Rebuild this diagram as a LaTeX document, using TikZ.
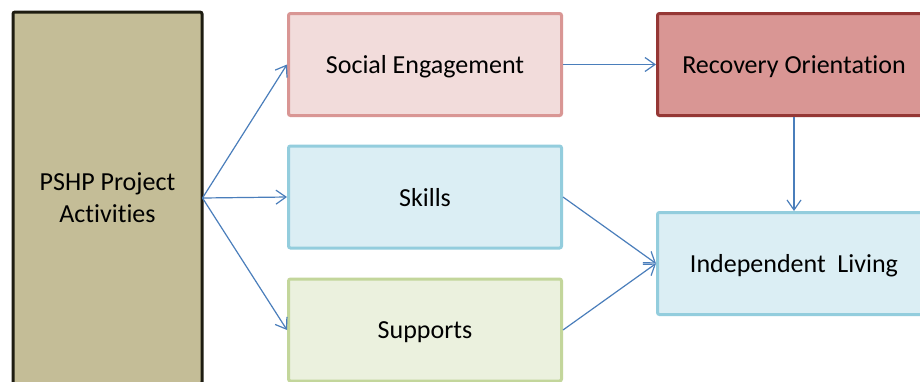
\documentclass[tikz,border=0pt]{standalone}
\usepackage{fontspec}
\setmainfont[Ligatures=NoCommon]{Carlito}
\usetikzlibrary{arrows.meta}
\definecolor{khaki}{HTML}{C4BD97}
\definecolor{khakiline}{HTML}{1E1C11}
\definecolor{pinkfill}{HTML}{F2DCDB}
\definecolor{pinkline}{HTML}{D99694}
\definecolor{redfill}{HTML}{D99694}
\definecolor{redline}{HTML}{953735}
\definecolor{bluefill}{HTML}{DBEEF4}
\definecolor{blueline}{HTML}{93CDDD}
\definecolor{greenfill}{HTML}{EBF1DE}
\definecolor{greenline}{HTML}{C3D69B}
\definecolor{arrowblue}{HTML}{4A7EBB}
\begin{document}
\begin{tikzpicture}[x=0.5pt,y=-0.5pt,
  box/.style={rectangle, rounded corners=1pt, line width=1.5pt, minimum width=136.5pt, minimum height=51pt, inner sep=0pt, font=\fontsize{13}{16}\selectfont, align=center, text=black},
  onebox/.style={box, text depth=0pt},
  conn/.style={draw=arrowblue, line width=0.6pt, -{Straight Barb[length=5pt,width=7pt]}}]
\useasboundingbox (0,0) rectangle (920,381);
\clip (0,0) rectangle (920,381);
\fill[white] (0,0) rectangle (920,381);
\node[box, fill=khaki, draw=khakiline, minimum width=94.5pt, minimum height=186pt] (pshp) at (107.5,198) {PSHP Project\\Activities};
\node[onebox, fill=pinkfill, draw=pinkline] (social) at (425,64.5) {Social Engagement};
\node[onebox, fill=bluefill, draw=blueline] (skills) at (425,197) {Skills};
\node[onebox, fill=greenfill, draw=greenline] (supports) at (425,330) {Supports};
\node[onebox, fill=redfill, draw=redline] (recovery) at (794,64.5) {Recovery Orientation};
\node[onebox, fill=bluefill, draw=blueline] (indep) at (794,263.5) {Independent\ \ Living};
\coordinate (src) at ([xshift=-0.5pt]pshp.east);
\draw[conn] (src) -- (social.west);
\draw[conn] (src) -- (skills.west);
\draw[conn] (src) -- (supports.west);
\draw[conn] (social.east) -- (recovery.west);
\draw[conn] (recovery.south) -- (indep.north);
\draw[conn] (skills.east) -- (indep.west);
\draw[conn] (supports.east) -- (indep.west);
\end{tikzpicture}
\end{document}
